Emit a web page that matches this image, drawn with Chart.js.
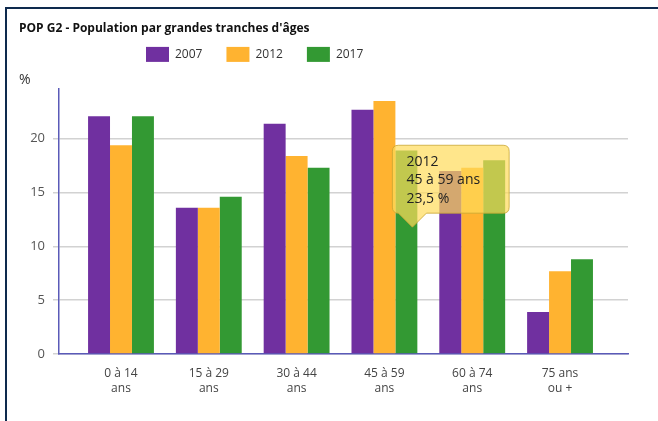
<!DOCTYPE html>
<html>
<head>
<meta charset="utf-8">
<script src="https://cdn.jsdelivr.net/npm/chart.js@4/dist/chart.umd.min.js"></script>
<style>
  body { margin: 0; background: #fff; }
  #wrap { position: relative; width: 658px; height: 421px; }
  #frame {
    position: absolute; left: 5px; top: 7px; right: 0; bottom: 0;
    border-left: 2.5px solid #0e2a4e; border-top: 2.5px solid #0e2a4e;
    pointer-events: none;
  }
</style>
</head>
<body>
<div id="wrap">
  <canvas id="myChart"></canvas>
  <div id="frame"></div>
</div>
<script>
// tranches d'âges (2 lignes par label)
const ageGroups = [
  ['0 à 14', 'ans'],
  ['15 à 29', 'ans'],
  ['30 à 44', 'ans'],
  ['45 à 59', 'ans'],
  ['60 à 74', 'ans'],
  ['75 ans', 'ou +']
];
const years = ['2007', '2012', '2017'];
const pop2007 = [22.1, 13.6, 21.4, 22.7, 17.0, 3.9];
const pop2012 = [19.4, 13.6, 18.4, 23.5, 17.3, 7.7];
const pop2017 = [22.1, 14.6, 17.3, 18.9, 18.0, 8.8];
const yTicks = [0, 5, 10, 15, 20];

const colors = ['#7030a0', '#ffb330', '#339933'];
const font = "'Open Sans', 'Noto Sans', sans-serif";

function toPoints(values) {
  return values.map((v, i) => ({ x: i, y: v }));
}

// tooltip pinned on the right side of the bar
Chart.Tooltip.positioners.pinned = function (items) {
  if (!items.length) return false;
  const el = items[0].element;
  return { x: el.x + el.width / 2 + 17, y: (el.y + el.base) / 2 + 3 };
};

// push the legend to the left like in the original
const legendNudge = {
  id: 'legendNudge',
  afterLayout(chart) {
    chart.legend.left = 122;
  }
};

const ctx = document.getElementById('myChart');
const chart = new Chart(ctx, {
  type: 'bar',
  data: {
    datasets: [
      { label: years[0], data: toPoints(pop2007), backgroundColor: colors[0] },
      { label: years[1], data: toPoints(pop2012), backgroundColor: colors[1] },
      { label: years[2], data: toPoints(pop2017), backgroundColor: colors[2] }
    ]
  },
  plugins: [legendNudge],
  options: {
    responsive: true,
    maintainAspectRatio: false,
    animation: false,
    events: [],
    categoryPercentage: 0.75,
    barPercentage: 1,
    layout: { padding: { top: 10, left: 19, right: 30, bottom: 13 } },
    plugins: {
      title: {
        display: true,
        text: "POP G2 - Population par grandes tranches d'âges",
        align: 'start',
        color: '#111',
        font: { family: font, size: 12, weight: 'bold' },
        padding: { top: 11.5, bottom: -13 }
      },
      legend: {
        align: 'start',
        labels: {
          boxWidth: 23,
          boxHeight: 15,
          padding: 24,
          color: '#333',
          font: { family: font, size: 12 }
        }
      },
      subtitle: {
        display: true,
        text: '%',
        align: 'start',
        weight: 500,
        color: '#333',
        font: { family: font, size: 14 },
        padding: { top: 0, bottom: 0 }
      },
      tooltip: {
        position: 'pinned',
        xAlign: 'left',
        yAlign: 'bottom',
        backgroundColor: 'rgba(255, 220, 90, 0.7)',
        borderColor: 'rgba(200, 165, 50, 0.8)',
        borderWidth: 1,
        cornerRadius: 6,
        caretSize: 14,
        caretPadding: 3,
        displayColors: false,
        padding: { top: 8, bottom: 6, left: 14, right: 29 },
        titleColor: '#222',
        bodyColor: '#222',
        titleFont: { family: font, size: 14, weight: 'normal' },
        bodyFont: { family: font, size: 14 },
        titleMarginBottom: 2,
        bodySpacing: 1.5,
        callbacks: {
          title: (items) => items[0].dataset.label,
          label: (item) => [
            ageGroups[item.dataIndex].join(' '),
            item.parsed.y.toLocaleString('fr-FR') + ' %'
          ]
        }
      }
    },
    scales: {
      x: {
        type: 'linear',
        offset: false,
        min: -0.706,
        max: 5.774,
        grid: { display: false, drawTicks: false },
        border: { color: '#5a5ab8', width: 1.5 },
        ticks: {
          stepSize: 1,
          includeBounds: false,
          maxRotation: 0,
          padding: 12,
          color: '#444',
          font: { family: font, size: 12, lineHeight: 1.25 },
          callback: (v) => ageGroups[v] || ''
        }
      },
      y: {
        min: 0,
        max: 24.65,
        afterFit: (scale) => { scale.width = 40; },
        grid: { color: '#d2d2d2', lineWidth: 1.5, tickLength: 6 },
        border: { color: '#5a5ab8', width: 1.5 },
        ticks: {
          stepSize: 5,
          includeBounds: false,
          padding: 8,
          color: '#555',
          font: { family: font, size: 13 },
          callback: (v) => yTicks.includes(v) ? v : ''
        }
      }
    }
  }
});

// show the 2012 / 45 à 59 ans tooltip like the screenshot
chart.tooltip.setActiveElements([{ datasetIndex: 1, index: 3 }], { x: 0, y: 0 });
chart.update();
</script>
</body>
</html>
